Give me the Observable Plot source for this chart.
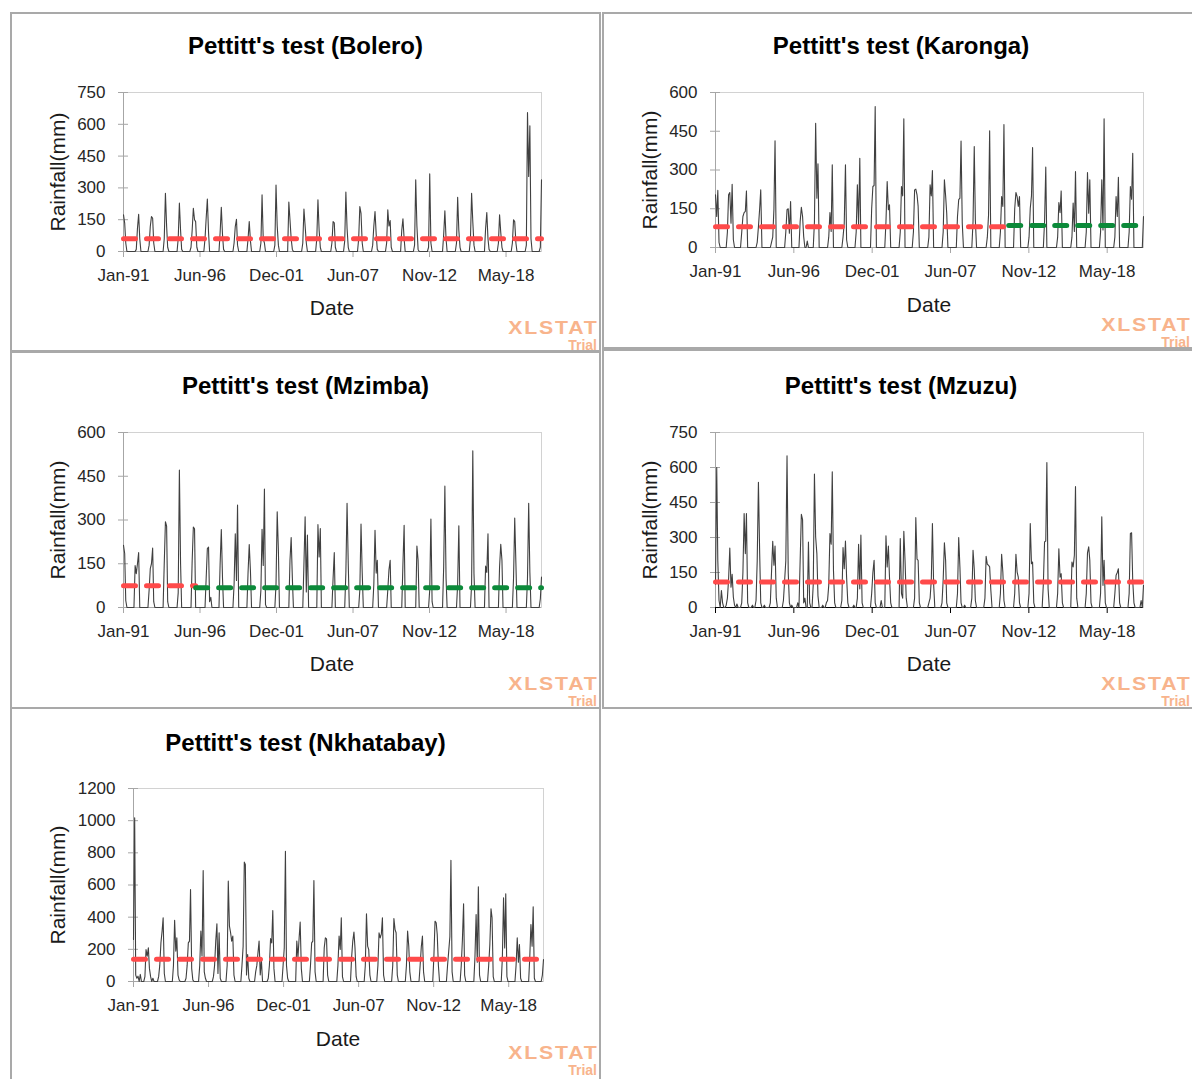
<!DOCTYPE html>
<html>
<head>
<meta charset="utf-8">
<script src="https://cdn.jsdelivr.net/npm/d3@7"></script>
<script src="https://cdn.jsdelivr.net/npm/@observablehq/plot@0.6"></script>
<style>
  body { margin: 0; width: 1192px; height: 1079px; overflow: hidden; background: #fff; position: relative;
         font-family: "Liberation Sans", Arial, sans-serif; }
  .box { position: absolute; border: 2px solid #a9a9a9; box-sizing: border-box; }
  .t { position: absolute; white-space: nowrap; transform: translate(-50%, -50%); color: #000; line-height: 1; }
  .title { font-weight: bold; font-size: 24px; }
  .ax { font-size: 21px; color: #1a1a1a; }
  .yl { transform: translate(-50%, -50%) rotate(-90deg); }
  .wm { position: absolute; color: #f8b48c; font-weight: bold; text-align: right; }
  .wm .a { font-size: 19px; line-height: 19px; letter-spacing: 1.6px; margin-right: -1.6px;
           transform: scaleX(1.12); transform-origin: right; }
  .wm .b { font-size: 14px; line-height: 14px; margin-top: 1px; }
  svg.chart { position: absolute; }
</style>
</head>
<body>
<script>
// Monthly rainfall (mm), one row per year 1991–2020, Jan..Dec
const bolero = [
  "173 134 40 0 0 0 0 0 0 0 0 10",
  "110 176 60 0 0 0 0 0 0 0 30 118",
  "165 157 40 0 0 0 0 0 0 0 0 60",
  "275 120 20 0 0 0 0 0 0 0 0 60",
  "228 100 10 0 0 0 0 0 0 0 20 100",
  "204 150 141 20 0 0 0 0 0 0 60 157",
  "247 90 0 0 0 0 0 0 0 0 0 90",
  "209 80 10 0 0 0 0 0 0 0 0 40",
  "118 152 30 0 0 0 0 0 0 0 0 60",
  "141 50 0 0 0 0 0 0 0 0 40 267",
  "60 40 0 0 0 0 0 0 0 0 30 314",
  "120 30 0 0 0 0 0 0 0 0 233 150",
  "60 10 0 0 0 0 0 0 0 0 40 200",
  "120 40 0 0 0 0 0 0 0 0 60 244",
  "100 20 0 0 0 0 0 0 0 0 0 40",
  "141 135 20 0 0 0 0 0 0 0 50 280",
  "110 20 0 0 0 0 0 0 0 0 60 212",
  "180 40 0 0 0 0 0 0 0 0 30 120",
  "189 80 10 0 0 0 0 0 0 0 40 197",
  "120 146 20 0 0 0 0 0 0 0 0 100",
  "154 60 0 0 0 0 0 0 0 0 30 338",
  "120 10 0 0 0 0 0 0 0 0 20 366",
  "40 0 0 0 0 0 0 0 0 0 0 80",
  "192 60 0 0 0 0 0 0 0 0 40 256",
  "100 20 0 0 0 0 0 0 0 0 60 275",
  "140 30 0 0 0 0 0 0 0 0 0 110",
  "184 60 10 0 0 0 0 0 0 0 40 173",
  "90 20 0 0 0 0 0 0 0 0 40 149",
  "141 40 0 0 0 0 0 0 0 0 30 656",
  "354 593 60 0 0 0 0 0 0 0 20 338"
];
const karonga = [
  "204 120 221 20 0 0 0 0 0 0 60 204",
  "213 94 245 30 0 0 0 0 0 0 60 120",
  "135 140 219 0 0 0 0 0 0 0 0 20",
  "80 150 223 0 0 0 0 0 0 0 0 20",
  "40 150 413 0 0 0 0 0 0 0 0 60",
  "146 150 55 178 0 0 0 0 0 0 0 100",
  "156 120 43 0 0 25 0 0 0 0 0 100",
  "481 191 324 0 0 0 0 0 0 0 0 40",
  "135 62 320 0 0 0 0 0 0 0 0 40",
  "94 320 30 0 0 0 0 0 0 0 60 243",
  "88 345 0 0 0 0 0 0 0 0 0 150",
  "236 240 546 0 0 0 0 0 0 0 0 100",
  "255 146 165 0 0 0 0 0 0 0 0 60",
  "236 200 498 0 0 0 0 0 0 0 60 223",
  "226 204 160 0 0 0 0 0 0 0 0 40",
  "243 200 298 0 0 0 0 0 0 0 0 60",
  "262 200 133 0 0 0 0 0 0 0 0 120",
  "185 191 412 94 0 0 0 0 0 0 0 0",
  "100 391 107 0 0 0 0 0 0 0 0 0",
  "40 126 452 0 0 0 0 0 0 0 0 60",
  "197 159 476 0 0 0 0 0 0 0 0 150",
  "213 197 159 197 0 0 0 0 0 0 0 40",
  "152 200 387 0 0 0 0 0 0 0 0 0",
  "100 311 0 0 0 0 0 0 0 0 0 40",
  "174 135 219 0 0 0 0 0 0 0 0 40",
  "172 62 294 0 0 0 0 0 0 0 0 60",
  "290 133 262 0 0 0 0 0 0 0 0 60",
  "262 68 498 0 0 0 0 0 0 0 0 40",
  "197 120 272 0 0 0 0 0 0 0 0 60",
  "236 187 365 0 0 0 0 0 0 0 0 120"
];
const mzimba = [
  "213 185 24 0 0 0 0 0 0 0 144 116",
  "150 188 0 0 0 0 0 0 0 0 60 133",
  "150 204 20 0 0 0 0 0 0 0 0 150",
  "294 279 20 0 0 0 0 0 0 0 0 50",
  "471 150 0 0 0 0 0 0 0 0 0 160",
  "276 270 0 0 0 0 0 0 0 0 0 100",
  "202 207 20 35 0 0 0 0 0 0 0 150",
  "267 100 0 0 0 0 0 0 0 0 0 80",
  "253 93 351 0 0 0 0 0 0 0 0 120",
  "216 127 0 0 0 0 0 0 0 0 60 268",
  "144 406 10 0 0 0 0 0 0 0 0 80",
  "328 196 0 0 0 0 0 0 0 0 0 162",
  "240 100 0 0 0 0 0 0 0 0 0 150",
  "311 53 248 0 0 0 0 0 0 0 0 284",
  "173 271 0 0 0 0 0 0 0 0 0 0",
  "100 188 0 0 0 0 0 0 0 0 0 120",
  "357 150 0 0 0 0 0 0 0 0 0 60",
  "286 120 0 0 0 0 0 0 0 0 0 80",
  "265 118 162 0 0 0 0 0 0 0 0 60",
  "130 162 0 0 0 0 0 0 0 0 0 0",
  "150 282 0 0 0 0 0 0 0 0 0 0",
  "211 162 0 0 0 0 0 0 0 0 0 60",
  "303 20 0 0 0 0 0 0 0 0 0 140",
  "416 100 0 0 0 0 0 0 0 0 0 80",
  "280 0 0 0 0 0 0 0 0 0 0 80",
  "537 116 0 0 0 0 0 0 0 0 0 142",
  "120 253 0 0 0 0 0 0 0 0 0 140",
  "217 162 0 0 0 0 0 0 0 0 0 100",
  "307 150 0 0 0 0 0 0 0 0 0 100",
  "357 120 0 0 0 0 0 0 0 0 30 104"
];
const mzuzu = [
  "100 600 200 30 0 73 20 0 0 10 40 120",
  "255 87 142 44 10 0 15 0 0 0 20 150",
  "403 231 403 20 0 0 0 10 0 0 30 200",
  "537 238 20 0 0 10 0 0 0 0 20 150",
  "284 181 263 40 0 0 0 0 0 30 116 200",
  "650 150 20 0 10 0 0 0 0 20 0 200",
  "399 377 20 40 0 0 280 20 0 0 100 572",
  "302 231 50 0 0 0 10 0 0 20 30 95",
  "317 271 582 159 20 0 0 0 0 0 30 257",
  "166 285 130 20 0 0 0 0 10 0 0 40",
  "271 80 310 20 0 0 0 0 0 0 0 60",
  "150 202 20 0 0 0 0 30 0 0 0 307",
  "174 263 130 20 0 0 0 0 0 0 0 296",
  "60 40 327 202 40 0 0 0 0 0 0 40",
  "385 207 202 20 0 0 0 0 0 0 0 20",
  "40 120 360 100 0 0 0 0 0 0 20 120",
  "277 202 20 0 0 0 0 0 0 0 0 60",
  "300 174 20 0 0 10 0 0 0 0 0 40",
  "245 166 30 0 0 0 0 0 0 0 40 219",
  "185 181 174 73 0 0 0 0 0 0 0 60",
  "228 152 30 0 0 0 0 0 0 0 0 60",
  "228 152 130 20 0 0 0 0 0 0 0 60",
  "360 188 195 20 0 0 0 0 0 0 0 100",
  "281 285 621 80 0 0 0 0 0 0 0 60",
  "252 130 145 20 0 0 0 0 0 0 0 195",
  "174 224 518 40 0 0 0 0 0 0 0 60",
  "234 260 202 20 0 0 0 0 0 0 0 60",
  "389 95 202 20 0 0 0 0 0 0 0 60",
  "138 150 166 20 0 0 0 0 0 0 0 60",
  "317 320 116 20 0 0 0 0 0 30 0 95"
];
const nkhatabay = [
  "261 1018 40 20 33 0 44 0 0 0 30 199",
  "158 209 80 30 0 20 0 0 0 0 30 100",
  "240 313 396 50 0 0 0 0 0 0 0 100",
  "381 189 271 40 10 0 0 0 0 0 20 100",
  "240 251 572 80 10 0 0 0 0 0 100 313",
  "158 690 60 20 0 0 0 0 0 0 30 100",
  "251 359 50 303 20 0 0 0 0 0 100 624",
  "344 303 251 282 40 0 0 0 0 0 0 100",
  "220 742 727 40 168 20 0 0 0 0 0 60",
  "100 180 251 40 137 0 0 0 0 0 20 100",
  "267 240 441 80 0 0 0 0 0 0 0 100",
  "209 810 100 20 0 0 0 0 0 0 0 251",
  "150 271 369 80 0 0 0 0 0 0 0 100",
  "240 251 628 60 0 0 0 0 0 0 0 209",
  "271 265 40 0 0 0 0 0 0 0 0 100",
  "282 199 396 30 0 0 0 0 0 0 0 150",
  "251 307 209 30 0 0 0 0 0 0 0 100",
  "421 220 199 40 0 0 0 0 0 0 100 303",
  "271 296 396 40 0 0 0 0 0 0 0 100",
  "392 323 303 40 0 0 0 0 0 0 0 100",
  "313 220 60 0 0 0 0 0 0 0 0 100",
  "215 282 60 0 0 0 0 0 0 0 0 150",
  "375 365 292 100 0 0 0 0 0 0 0 100",
  "189 280 754 60 0 0 0 0 0 0 0 100",
  "261 483 40 0 0 0 0 0 0 0 0 150",
  "417 120 589 40 0 0 0 0 0 0 0 100",
  "230 452 396 30 0 0 0 0 0 0 0 150",
  "520 209 545 30 0 0 0 0 0 0 0 100",
  "271 120 230 20 0 0 0 0 0 0 0 150",
  "354 220 464 20 0 0 0 0 0 0 40 137"
];

// Pettitt's test: mean before / after the change point
const boleroMeans    = [{ from: "1991-01-01", to: "2020-12-01", mu: 60 }];
const karongaMeans   = [{ from: "1991-01-01", to: "2011-07-01", mu: 80 }, { from: "2011-07-01", to: "2020-12-01", mu: 85 }];
const mzimbaMeans    = [{ from: "1991-01-01", to: "1996-03-01", mu: 75 }, { from: "1996-03-01", to: "2020-12-01", mu: 68 }];
const mzuzuMeans     = [{ from: "1991-01-01", to: "2020-12-01", mu: 109 }];
const nkhatabayMeans = [{ from: "1991-01-01", to: "2020-12-01", mu: 139 }];

const firstYear = 1991;
const xTickLabels = ["Jan-91", "Jun-96", "Dec-01", "Jun-07", "Nov-12", "May-18"];
const xTickStepDays = 2000;

const RED = "#ff4a4a", GREEN = "#0c8a3a", LINE = "#404040", AXIS = "#a6a6a6";

function monthly(rows) {
  return rows.flatMap((row, yi) => row.trim().split(/\s+/).map((v, mi) => ({
    date: new Date(Date.UTC(firstYear + yi, mi, 1)), value: +v
  })));
}

const origin = new Date(Date.UTC(firstYear, 0, 1));
const xTicks = xTickLabels.map((_, i) => d3.utcDay.offset(origin, xTickStepDays * i));
const xLabel = new Map(xTicks.map((d, i) => [+d, xTickLabels[i]]));

function place(cls, text, cx, cy) {
  const el = document.createElement("div");
  el.className = "t " + cls;
  el.textContent = text;
  el.style.left = cx + "px";
  el.style.top = cy + "px";
  document.body.append(el);
}

function panel(p) {
  const { box, area } = p;
  const b = document.createElement("div");
  b.className = "box";
  Object.assign(b.style, { left: box.x + "px", top: box.y + "px", width: box.w + "px", height: box.h + "px" });
  document.body.append(b);

  const data = monthly(p.rows);
  const start = data[0].date, end = data[data.length - 1].date;
  const yTicks = d3.range(0, p.yMax + 1, p.yStep);
  const axisColor = p.baseColor || AXIS;

  const meanMarks = p.means.map((m, i) => Plot.lineY(
    [{ date: new Date(m.from), value: m.mu }, { date: new Date(m.to), value: m.mu }],
    { x: "date", y: "value", stroke: i === 0 ? RED : GREEN, strokeWidth: 5,
      strokeDasharray: "12,11", strokeLinecap: "round" }));

  const chart = Plot.plot({
    width: box.w, height: box.h,
    marginLeft: area.x0 - box.x, marginRight: box.x + box.w - area.x1,
    marginTop: area.y0 - box.y, marginBottom: box.y + box.h - area.y1,
    style: { fontFamily: "Liberation Sans, Arial, sans-serif", fontSize: "17px", color: "#262626",
             background: "transparent", overflow: "visible" },
    x: { type: "utc", domain: [start, end] },
    y: { domain: [0, p.yMax] },
    marks: [
      Plot.frame({ stroke: "#d2d2d2" }),
      Plot.axisY(yTicks, { tickSize: 10, dx: 5, tickFormat: () => "", stroke: AXIS, label: null }),
      Plot.axisY(yTicks, { tickSize: 0, tickPadding: 18, tickFormat: "d", label: null, fill: "#262626" }),
      Plot.axisX(xTicks, { tickSize: 6, tickPadding: 11, tickFormat: d => xLabel.get(+d), stroke: axisColor,
                           fill: "#262626", label: null }),
      Plot.ruleX([start], { stroke: AXIS }),
      Plot.ruleY([0], { stroke: axisColor }),
      Plot.lineY(data, { x: "date", y: "value", stroke: LINE, strokeWidth: 1.1 }),
      ...meanMarks
    ]
  });
  chart.classList.add("chart");
  chart.style.left = box.x + "px";
  chart.style.top = box.y + "px";
  document.body.append(chart);

  place("title", p.title, box.x + box.w / 2, p.titleY);
  place("ax yl", "Rainfall(mm)", p.ylX, (area.y0 + area.y1) / 2);
  place("ax", "Date", (area.x0 + area.x1) / 2, p.dateY);

  const wm = document.createElement("div");
  wm.className = "wm";
  wm.innerHTML = '<div class="a">XLSTAT</div><div class="b">Trial</div>';
  wm.style.right = (1192 - p.wm.right) + "px";
  wm.style.top = p.wm.top + "px";
  document.body.append(wm);
}

const panels = [
  { title: "Pettitt's test (Bolero)", rows: bolero, means: boleroMeans, yMax: 750, yStep: 150,
    box: { x: 10, y: 12, w: 591, h: 340 }, area: { x0: 123, x1: 541, y0: 92, y1: 251 },
    titleY: 46, ylX: 57, dateY: 307, wm: { right: 597, top: 318 } },
  { title: "Pettitt's test (Karonga)", rows: karonga, means: karongaMeans, yMax: 600, yStep: 150,
    box: { x: 602, y: 12, w: 598, h: 337 }, area: { x0: 715, x1: 1143, y0: 92, y1: 247 },
    titleY: 46, ylX: 649, dateY: 304, wm: { right: 1190, top: 315 } },
  { title: "Pettitt's test (Mzimba)", rows: mzimba, means: mzimbaMeans, yMax: 600, yStep: 150,
    box: { x: 10, y: 351, w: 591, h: 358 }, area: { x0: 123, x1: 541, y0: 432, y1: 607 },
    titleY: 386, ylX: 57, dateY: 663, wm: { right: 597, top: 674 } },
  { title: "Pettitt's test (Mzuzu)", rows: mzuzu, means: mzuzuMeans, yMax: 750, yStep: 150,
    box: { x: 602, y: 349, w: 598, h: 360 }, area: { x0: 715, x1: 1143, y0: 432, y1: 607 },
    titleY: 386, ylX: 649, dateY: 663, wm: { right: 1190, top: 674 }, baseColor: "#000" },
  { title: "Pettitt's test (Nkhatabay)", rows: nkhatabay, means: nkhatabayMeans, yMax: 1200, yStep: 200,
    box: { x: 10, y: 707, w: 591, h: 385 }, area: { x0: 133, x1: 543, y0: 788, y1: 981 },
    titleY: 743, ylX: 57, dateY: 1038, wm: { right: 597, top: 1043 } }
];

panels.forEach(panel);
</script>
</body>
</html>
